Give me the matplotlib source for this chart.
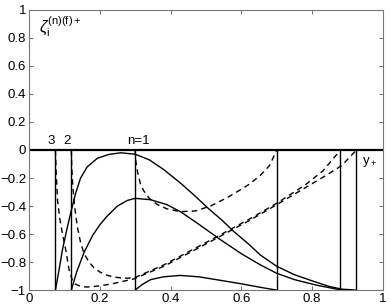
import numpy as np
import matplotlib
matplotlib.use('Agg')
import matplotlib.pyplot as plt

plt.rcParams['font.family'] = ['Liberation Sans', 'DejaVu Sans']
plt.rcParams['mathtext.fontset'] = 'custom'
plt.rcParams['mathtext.rm'] = 'Liberation Sans'
plt.rcParams['mathtext.it'] = 'Liberation Sans:italic'

# boundary positions for n=3, 2, 1 (left and right)
x_walls = [0.075, 0.12, 0.30, 0.70, 0.88, 0.925]

# solid curves
s3_x = [0.075, 0.085, 0.095, 0.107, 0.118, 0.132, 0.146, 0.165, 0.193, 0.225, 0.259,
        0.30, 0.34, 0.381, 0.43, 0.47, 0.508, 0.545, 0.578, 0.62, 0.654, 0.70, 0.75,
        0.813, 0.85, 0.884, 0.925]
s3_y = [-1.0, -0.86, -0.71, -0.57, -0.45, -0.31, -0.20, -0.12, -0.06, -0.032, -0.02,
        -0.03, -0.07, -0.14, -0.24, -0.33, -0.42, -0.50, -0.58, -0.67, -0.75, -0.83, -0.89,
        -0.945, -0.975, -0.993, -1.0]

s2_x = [0.12, 0.135, 0.156, 0.18, 0.20, 0.22, 0.25, 0.278, 0.30, 0.344, 0.39, 0.428,
        0.48, 0.541, 0.60, 0.654, 0.70, 0.75, 0.813, 0.884]
s2_y = [-1.0, -0.87, -0.73, -0.61, -0.535, -0.475, -0.40, -0.36, -0.345, -0.355, -0.39, -0.44,
        -0.53, -0.64, -0.74, -0.82, -0.88, -0.925, -0.965, -1.0]

s1_x = [0.30, 0.32, 0.344, 0.38, 0.428, 0.48, 0.541, 0.60, 0.654, 0.70]
s1_y = [-1.0, -0.96, -0.925, -0.905, -0.895, -0.905, -0.93, -0.955, -0.98, -1.0]

# dashed curves
d3_x = [0.075, 0.077, 0.081, 0.088, 0.095, 0.104, 0.114, 0.123, 0.13, 0.145, 0.163, 0.2,
        0.235, 0.296, 0.381, 0.508, 0.625, 0.70, 0.78, 0.84, 0.884, 0.925]
d3_y = [0.0, -0.15, -0.36, -0.50, -0.60, -0.71, -0.86, -0.93, -0.955, -0.972, -0.978, -0.97,
        -0.955, -0.92, -0.83, -0.66, -0.50, -0.39, -0.27, -0.18, -0.11, 0.0]

d2_x = [0.12, 0.121, 0.124, 0.13, 0.137, 0.146, 0.156, 0.17, 0.184, 0.20, 0.222, 0.25,
        0.278, 0.30, 0.381, 0.508, 0.625, 0.70, 0.78, 0.83, 0.88]
d2_y = [0.0, -0.12, -0.26, -0.42, -0.55, -0.66, -0.74, -0.80, -0.84, -0.87, -0.895, -0.91,
        -0.915, -0.91, -0.82, -0.65, -0.49, -0.38, -0.25, -0.15, 0.0]

d1_x = [0.30, 0.302, 0.308, 0.315, 0.324, 0.34, 0.363, 0.39, 0.428, 0.47, 0.513, 0.56,
        0.60, 0.625, 0.654, 0.68, 0.70]
d1_y = [0.0, -0.08, -0.17, -0.24, -0.29, -0.345, -0.39, -0.42, -0.44, -0.435, -0.40, -0.34,
        -0.28, -0.24, -0.18, -0.11, 0.0]

xticks = [0, 0.2, 0.4, 0.6, 0.8, 1]
xticklabels = ['0', '0.2', '0.4', '0.6', '0.8', '1']
yticks = [1, 0.8, 0.6, 0.4, 0.2, 0, -0.2, -0.4, -0.6, -0.8, -1]
yticklabels = ['1', '0.8', '0.6', '0.4', '0.2', '0', '\u22120.2', '\u22120.4',
               '\u22120.6', '\u22120.8', '\u22121']

fig = plt.figure(figsize=(3.9, 3.08), dpi=100)
ax = fig.add_axes([0.074, 0.058, 0.908, 0.910])

lw = 1.0
fs = 9.5
ax.plot([0, 1], [0, 0], color='black', lw=1.6)
for xw in x_walls:
    ax.plot([xw, xw], [0, -1], color='black', lw=lw)

for xs, ys in [(s3_x, s3_y), (s2_x, s2_y), (s1_x, s1_y)]:
    ax.plot(xs, ys, color='black', lw=lw)
for xs, ys in [(d3_x, d3_y), (d2_x, d2_y), (d1_x, d1_y)]:
    ax.plot(xs, ys, color='black', lw=lw, ls=(0, (4, 3)))

ax.text(0.064, 0.04, '3', fontsize=fs, ha='center', va='baseline')
ax.text(0.109, 0.04, '2', fontsize=fs, ha='center', va='baseline')
ax.text(0.31, 0.04, 'n=1', fontsize=fs, ha='center', va='baseline')
ax.text(0.94, -0.1, r'$\mathregular{y_+}$', fontsize=fs, ha='left', va='baseline')
ax.text(0.03, 0.84, r'$\zeta_\mathregular{i}^\mathregular{(n)(f)+}$', fontsize=11.5,
        ha='left', va='baseline')

ax.set_xlim(0, 1)
ax.set_ylim(-1, 1)
ax.set_xticks(xticks)
ax.set_xticklabels(xticklabels)
ax.set_yticks(yticks)
ax.set_yticklabels(yticklabels)
ax.tick_params(direction='in', length=3, width=0.6, top=True, right=True,
               labelsize=fs, colors='#555555', labelcolor='black', pad=2)
for sp in ax.spines.values():
    sp.set_color('#777777')
    sp.set_linewidth(0.8)

fig.savefig('out.png', dpi=100)
